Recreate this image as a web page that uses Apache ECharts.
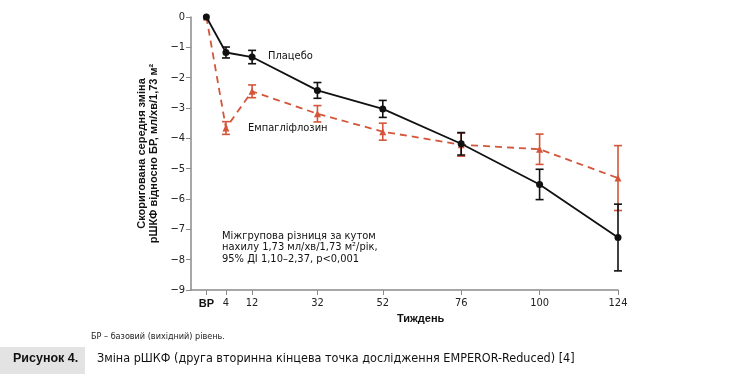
<!DOCTYPE html>
<html>
<head>
<meta charset="utf-8">
<script src="https://cdn.jsdelivr.net/npm/echarts@6/dist/echarts.min.js"></script>
<style>
html,body{margin:0;padding:0;background:#fff;}
#c{width:750px;height:374px;}
</style>
</head>
<body>
<div id="c"></div>
<script>
// ---- data ----
// BP (baseline) is drawn slightly left of week 4, as in the source figure
var weeks = [-2, 4, 12, 32, 52, 76, 100, 124];
var tickLabels = ['BP', '4', '12', '32', '52', '76', '100', '124'];
var placeboMean = [0, -1.17, -1.32, -2.42, -3.03, -4.18, -5.52, -7.27];
var placeboErr  = [0, 0.18, 0.22, 0.26, 0.28, 0.37, 0.50, 1.10];
var empaMean    = [0, -3.66, -2.45, -3.19, -3.78, -4.21, -4.36, -5.31];
var empaErr     = [0, 0.21, 0.21, 0.27, 0.28, 0.38, 0.50, 1.07];

var BLACK = '#111111';
var RED = '#d4553a';
var FONT = '"Liberation Sans Narrow", "DejaVu Sans Condensed", "Liberation Sans", sans-serif';

function pts(mean) { return weeks.map(function (w, i) { return [w, mean[i]]; }); }
function errData(mean, err) {
  var out = [];
  weeks.forEach(function (w, i) { if (err[i] > 0) out.push([w, mean[i] - err[i], mean[i] + err[i]]); });
  return out;
}
function errSeries(mean, err, color, z) {
  return {
    type: 'custom', z: z, silent: true,
    data: errData(mean, err),
    encode: { x: 0, y: [1, 2] },
    renderItem: function (params, api) {
      var x = api.value(0);
      var lo = api.coord([x, api.value(1)]);
      var hi = api.coord([x, api.value(2)]);
      var hw = 4;
      var st = { stroke: color, lineWidth: 1.6, fill: null };
      return {
        type: 'group',
        children: [
          { type: 'line', shape: { x1: lo[0], y1: lo[1], x2: hi[0], y2: hi[1] }, style: st },
          { type: 'line', shape: { x1: lo[0] - hw, y1: lo[1], x2: lo[0] + hw, y2: lo[1] }, style: st },
          { type: 'line', shape: { x1: hi[0] - hw, y1: hi[1], x2: hi[0] + hw, y2: hi[1] }, style: st }
        ]
      };
    }
  };
}

var chart = echarts.init(document.getElementById('c'));
chart.setOption({
  animation: false,
  backgroundColor: '#fff',
  grid: { left: 191, right: 132, top: 17, bottom: 84, containLabel: false },
  xAxis: {
    type: 'value', min: -6.7, max: 124,
    axisLine: { show: true, onZero: false, lineStyle: { color: '#8a8a8a', width: 1.5 } },
    axisTick: { show: true, customValues: weeks, length: 5, lineStyle: { color: '#8a8a8a' } },
    axisLabel: {
      customValues: weeks, margin: 8, color: '#222', fontFamily: FONT, fontSize: 11,
      formatter: function (v) {
        var i = weeks.indexOf(v);
        var t = i >= 0 ? tickLabels[i] : '';
        return t === 'BP' ? '{b|BP}' : t;
      },
      rich: { b: { fontWeight: 'bold', fontFamily: '"Liberation Sans", sans-serif', fontSize: 11, color: '#111' } }
    },
    splitLine: { show: false }
  },
  yAxis: {
    type: 'value', min: -9, max: 0, interval: 1,
    axisLine: { show: true, onZero: false, lineStyle: { color: '#8a8a8a', width: 1.5 } },
    axisTick: { show: true, length: 5, lineStyle: { color: '#8a8a8a' } },
    axisLabel: {
      margin: 6, color: '#222', fontFamily: FONT, fontSize: 11,
      formatter: function (v) { return v < 0 ? '\u2212' + Math.abs(v) : String(v); }
    },
    splitLine: { show: false },
    name: 'Скоригована середня зміна\nрШКФ відносно БР, мл/хв/1,73 м²',
    nameLocation: 'middle', nameGap: 28, nameRotate: 90,
    nameTextStyle: { fontFamily: '"Liberation Sans", sans-serif', fontWeight: 'bold', fontSize: 11, color: '#111', lineHeight: 12 }
  },
  series: [
    errSeries(empaMean, empaErr, RED, 3),
    {
      type: 'line', name: 'Емпагліфлозин', data: pts(empaMean), z: 4,
      symbol: 'triangle', symbolSize: 7,
      lineStyle: { color: RED, width: 1.8, type: [7, 5] },
      itemStyle: { color: RED }
    },
    errSeries(placeboMean, placeboErr, BLACK, 5),
    {
      type: 'line', name: 'Плацебо', data: pts(placeboMean), z: 6,
      symbol: 'circle', symbolSize: 7,
      lineStyle: { color: BLACK, width: 1.8 },
      itemStyle: { color: BLACK }
    }
  ],
  graphic: [
    { type: 'text', left: 268, top: 51, style: { text: 'Плацебо', font: '11px ' + FONT, fill: '#111' } },
    { type: 'text', left: 248, top: 123, style: { text: 'Емпагліфлозин', font: '11px ' + FONT, fill: '#111' } },
    { type: 'text', left: 222, top: 230, style: {
        text: 'Міжгрупова різниця за кутом\nнахилу 1,73 мл/хв/1,73 м²/рік,\n95% ДІ 1,10–2,37, p<0,001',
        font: '11px ' + FONT, fill: '#111', lineHeight: 11.7 } },
    { type: 'text', left: 397, top: 313, style: { text: 'Тиждень', font: 'bold 11px "Liberation Sans", sans-serif', fill: '#111' } },
    { type: 'text', left: 91, top: 332, style: { text: 'БР – базовий (вихідний) рівень.', font: '9px ' + FONT, fill: '#222' } },
    { type: 'rect', shape: { x: 0, y: 347, width: 85, height: 27 }, style: { fill: '#e3e3e3' } },
    { type: 'text', left: 13, top: 352, style: { text: 'Рисунок 4.', font: 'bold 12.5px "Liberation Sans Narrow", "Liberation Sans", sans-serif', fill: '#111' } },
    { type: 'text', left: 97, top: 352, style: { text: 'Зміна рШКФ (друга вторинна кінцева точка дослідження EMPEROR-Reduced) [4]', font: '12.5px ' + FONT, fill: '#111' } }
  ]
});
</script>
</body>
</html>
